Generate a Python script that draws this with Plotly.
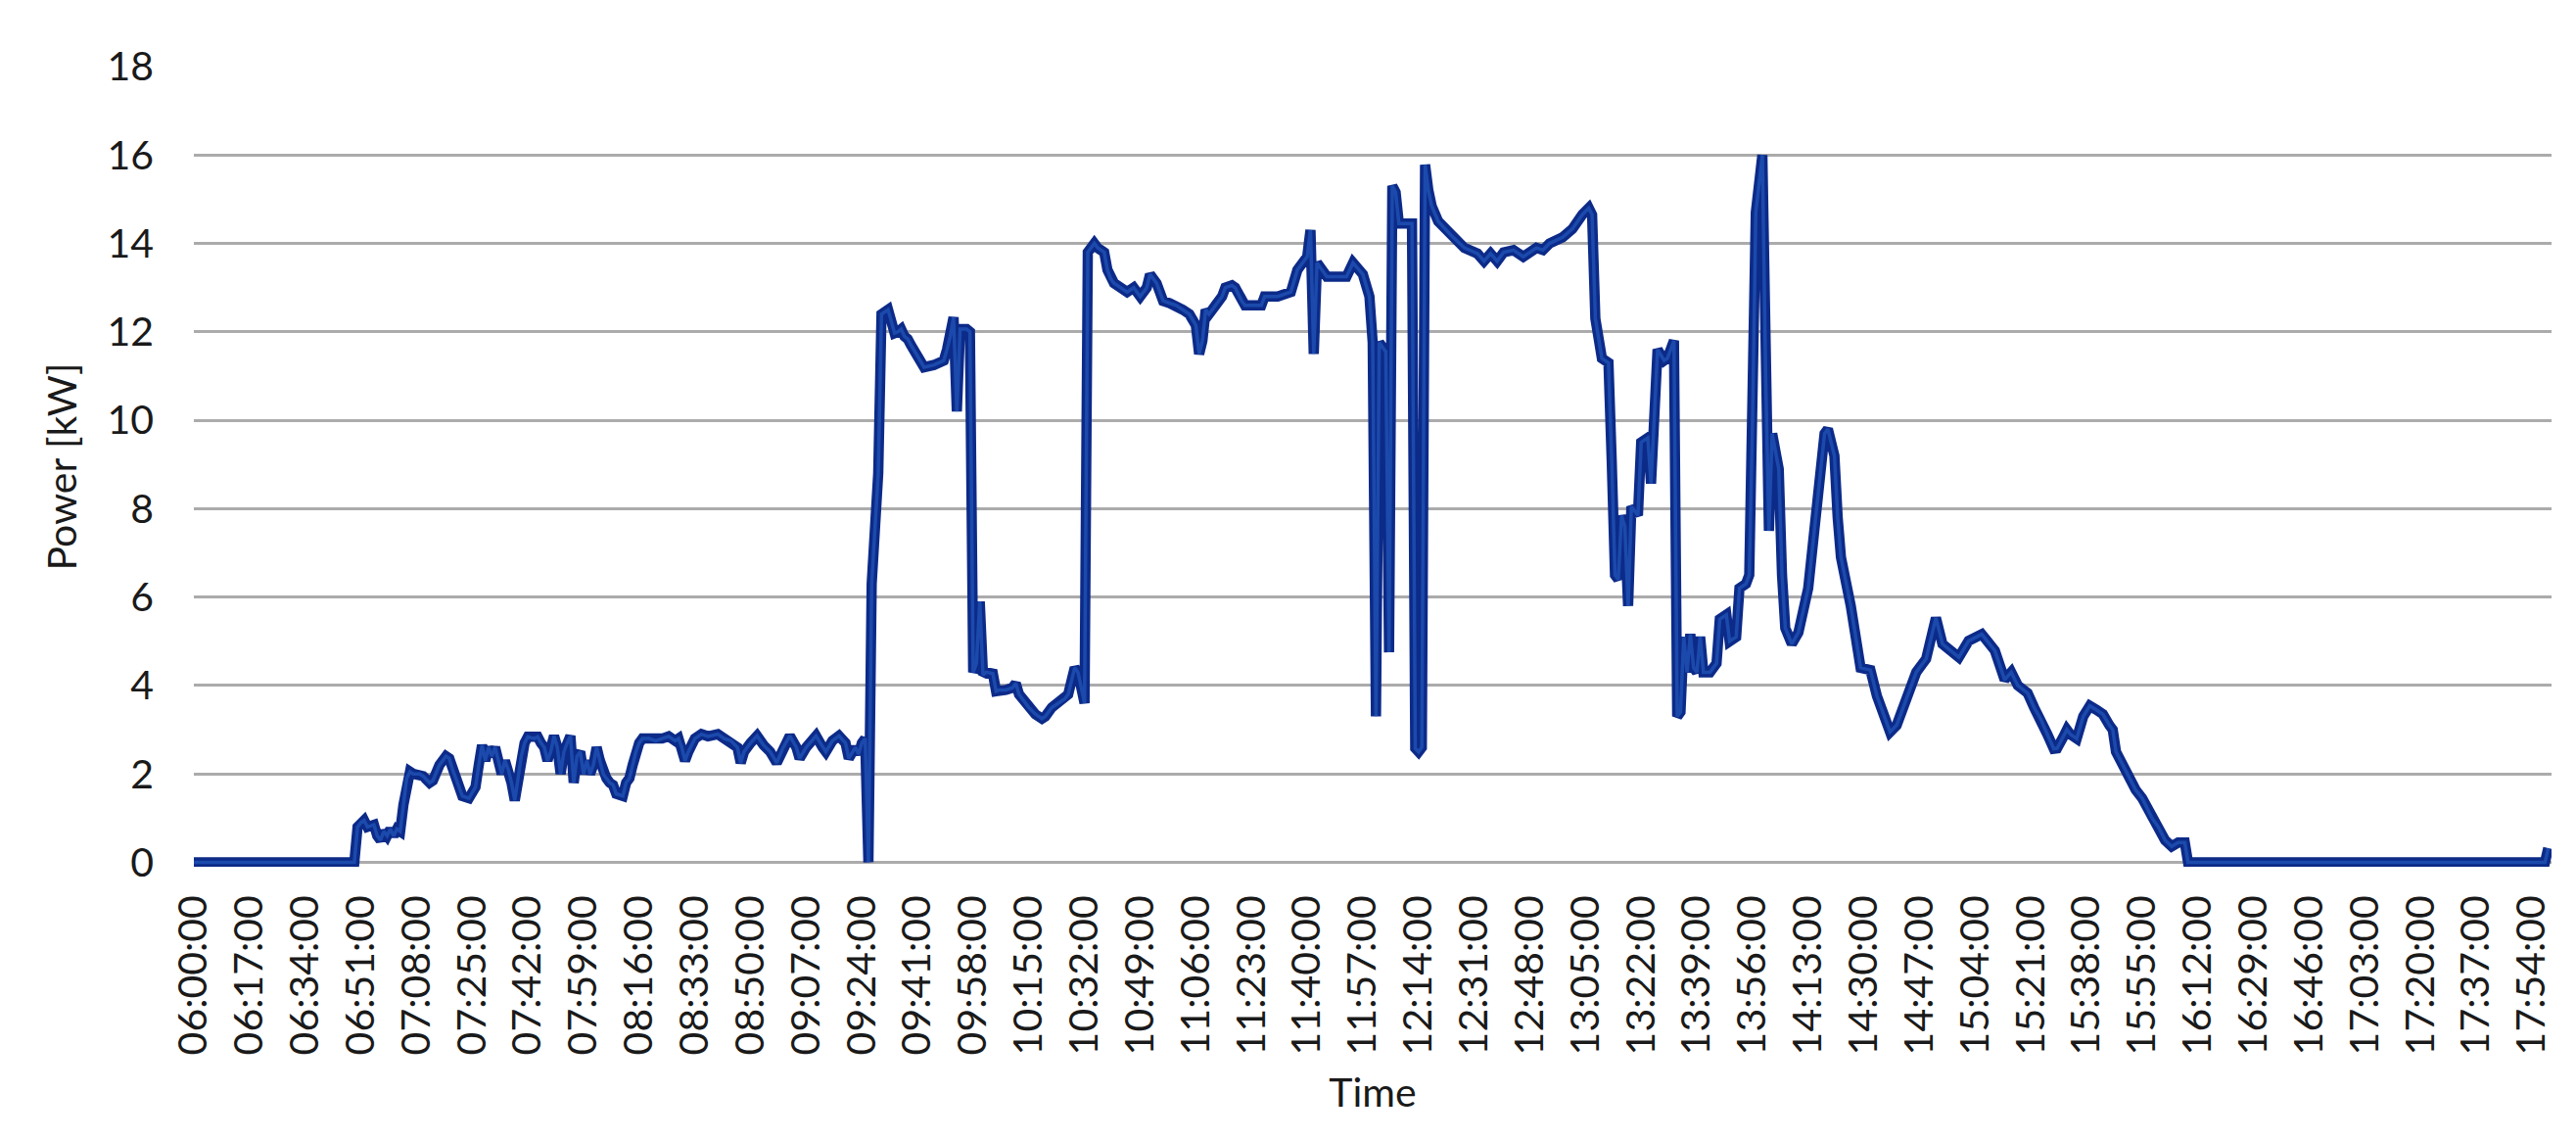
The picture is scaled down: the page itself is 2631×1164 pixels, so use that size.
import plotly.graph_objects as go
from datetime import datetime

DAY = "2024-01-01"

TIMES = [
    "06:00", "06:49", "06:50", "06:51", "06:52", "06:53", "06:55", "06:56", "06:57", "06:58",
    "06:59", "07:00", "07:01", "07:02", "07:03", "07:04", "07:05", "07:06", "07:07", "07:09",
    "07:10", "07:12", "07:13", "07:15", "07:17", "07:18", "07:19", "07:21", "07:22", "07:24",
    "07:26", "07:27", "07:28", "07:29", "07:30", "07:31", "07:32", "07:33", "07:34", "07:35",
    "07:36", "07:37", "07:38", "07:39", "07:40", "07:41", "07:42", "07:44", "07:45", "07:46",
    "07:47", "07:48", "07:49", "07:50", "07:51", "07:52", "07:53", "07:54", "07:55", "07:56",
    "07:57", "07:58", "07:59", "08:00", "08:01", "08:02", "08:03", "08:04", "08:05", "08:06",
    "08:07", "08:08", "08:09", "08:11", "08:12", "08:13", "08:14", "08:15", "08:16", "08:17",
    "08:19", "08:21", "08:23", "08:25", "08:27", "08:28", "08:29", "08:30", "08:31", "08:33",
    "08:35", "08:37", "08:40", "08:42", "08:44", "08:46", "08:47", "08:48", "08:50", "08:52",
    "08:54", "08:56", "08:58", "09:00", "09:02", "09:04", "09:05", "09:07", "09:10", "09:12",
    "09:13", "09:15", "09:17", "09:19", "09:20", "09:22", "09:23", "09:24", "09:25", "09:26",
    "09:27", "09:29", "09:30", "09:32", "09:33", "09:34", "09:35", "09:36", "09:37", "09:38",
    "09:39", "09:41", "09:42", "09:43", "09:46", "09:49", "09:50", "09:51", "09:52", "09:53",
    "09:54", "09:56", "09:57", "09:58", "09:59", "10:00", "10:01", "10:02", "10:04", "10:05",
    "10:06", "10:08", "10:10", "10:11", "10:12", "10:13", "10:15", "10:17", "10:19", "10:20",
    "10:22", "10:24", "10:26", "10:27", "10:28", "10:29", "10:30", "10:32", "10:33", "10:35",
    "10:36", "10:38", "10:39", "10:40", "10:41", "10:43", "10:45", "10:47", "10:49", "10:51",
    "10:52", "10:54", "10:56", "10:58", "11:00", "11:02", "11:04", "11:06", "11:07", "11:08",
    "11:09", "11:10", "11:12", "11:14", "11:15", "11:17", "11:18", "11:20", "11:21", "11:23",
    "11:26", "11:27", "11:29", "11:31", "11:35", "11:37", "11:40", "11:41", "11:42", "11:43",
    "11:46", "11:52", "11:54", "11:57", "11:59", "12:00", "12:01", "12:02", "12:04", "12:05",
    "12:06", "12:07", "12:08", "12:12", "12:13", "12:14", "12:15", "12:16", "12:17", "12:18",
    "12:20", "12:24", "12:28", "12:32", "12:34", "12:36", "12:38", "12:40", "12:43", "12:46",
    "12:48", "12:50", "12:52", "12:54", "12:58", "13:01", "13:04", "13:06", "13:07", "13:08",
    "13:10", "13:12", "13:13", "13:14", "13:15", "13:16", "13:17", "13:18", "13:19", "13:21",
    "13:22", "13:24", "13:25", "13:27", "13:29", "13:30", "13:32", "13:33", "13:34", "13:35",
    "13:36", "13:37", "13:38", "13:39", "13:40", "13:41", "13:43", "13:45", "13:46", "13:48",
    "13:49", "13:51", "13:52", "13:54", "13:55", "13:56", "13:57", "13:59", "14:00", "14:01",
    "14:02", "14:03", "14:04", "14:05", "14:06", "14:08", "14:10", "14:13", "14:14", "14:15",
    "14:16", "14:17", "14:18", "14:19", "14:21", "14:22", "14:23", "14:26", "14:29", "14:32",
    "14:34", "14:38", "14:40", "14:46", "14:49", "14:52", "14:54", "14:59", "15:02", "15:06",
    "15:10", "15:13", "15:15", "15:17", "15:20", "15:22", "15:24", "15:26", "15:28", "15:29",
    "15:31", "15:32", "15:33", "15:35", "15:37", "15:39", "15:41", "15:43", "15:45", "15:46",
    "15:47", "15:49", "15:51", "15:53", "15:55", "15:56", "15:58", "16:00", "16:02", "16:04",
    "16:06", "16:08", "16:09", "17:58", "17:59",
]

POWER_KW = [
    0.0, 0.0, 0.8, 0.9, 0.95, 0.8, 0.85, 0.6, 0.5, 0.7,
    0.6, 0.75, 0.6, 0.75, 0.7, 1.3, 1.9, 2.05, 2.0, 2.0,
    1.95, 1.8, 1.85, 2.2, 2.4, 2.35, 2.1, 1.7, 1.5, 1.45,
    1.7, 2.2, 2.65, 2.3, 2.6, 2.4, 2.6, 2.3, 2.0, 2.3,
    2.1, 1.8, 1.4, 1.9, 2.4, 2.7, 2.84, 2.8, 2.84, 2.7,
    2.6, 2.3, 2.5, 2.86, 2.6, 2.0, 2.5, 2.7, 2.86, 1.8,
    2.4, 2.5, 2.0, 2.3, 2.0, 2.2, 2.6, 2.3, 2.0, 1.9,
    1.8, 1.75, 1.55, 1.5, 1.8, 1.9, 2.2, 2.5, 2.7, 2.8,
    2.8, 2.75, 2.8, 2.85, 2.75, 2.8, 2.6, 2.3, 2.5, 2.8,
    2.9, 2.85, 2.9, 2.8, 2.75, 2.6, 2.25, 2.5, 2.7, 2.86,
    2.65, 2.5, 2.25, 2.6, 2.86, 2.6, 2.35, 2.6, 2.86, 2.6,
    2.5, 2.75, 2.86, 2.7, 2.35, 2.6, 2.45, 2.7, 2.8, 0.0,
    6.3, 8.8, 12.4, 12.5, 12.2, 11.97, 12.0, 12.06, 11.9, 11.84,
    11.7, 11.45, 11.3, 11.2, 11.25, 11.35, 11.6, 11.9, 12.33, 10.2,
    12.06, 12.06, 12.0, 4.3, 4.5, 5.9, 4.24, 4.3, 4.27, 3.87,
    3.9, 3.9, 3.95, 4.05, 3.8, 3.7, 3.5, 3.35, 3.25, 3.3,
    3.5, 3.6, 3.7, 3.8, 4.1, 4.4, 4.3, 3.6, 13.8, 14.0,
    13.9, 13.8, 13.4, 13.2, 13.1, 13.0, 12.9, 13.0, 12.8, 13.0,
    13.3, 13.1, 12.7, 12.65, 12.6, 12.5, 12.4, 12.15, 11.5, 11.8,
    12.5, 12.4, 12.6, 12.8, 13.0, 13.05, 13.0, 12.7, 12.6, 12.6,
    12.6, 12.8, 12.8, 12.8, 12.9, 13.4, 13.7, 14.3, 11.5, 13.56,
    13.25, 13.25, 13.56, 13.3, 12.8, 11.76, 3.3, 11.76, 11.55, 4.75,
    15.3, 15.16, 14.45, 14.45, 2.58, 2.5, 2.6, 15.78, 15.2, 14.85,
    14.5, 14.18, 13.9, 13.77, 13.6, 13.77, 13.6, 13.8, 13.85, 13.7,
    13.8, 13.9, 13.85, 14.0, 14.14, 14.33, 14.65, 14.8, 14.65, 12.3,
    11.4, 11.3, 9.08, 6.5, 6.4, 7.84, 7.6, 5.8, 8.05, 7.85,
    9.5, 9.6, 8.57, 11.6, 11.35, 11.4, 11.8, 3.3, 3.4, 5.1,
    4.3, 5.16, 4.4, 4.3, 5.1, 4.3, 4.3, 4.5, 5.5, 5.6,
    5.0, 5.1, 6.2, 6.3, 6.5, 10.0, 14.7, 16.0, 11.0, 7.5,
    9.7, 9.3, 8.9, 6.5, 5.3, 4.94, 5.2, 6.2, 6.9, 7.6,
    8.2, 9.0, 9.7, 9.8, 9.2, 7.8, 6.9, 5.8, 4.4, 4.35,
    3.76, 2.95, 3.1, 4.3, 4.6, 5.53, 4.94, 4.64, 5.01, 5.16,
    4.79, 4.13, 4.3, 4.0, 3.83, 3.5, 3.24, 2.9, 2.57, 2.58,
    2.85, 3.0, 2.9, 2.8, 3.3, 3.54, 3.45, 3.35, 3.1, 3.0,
    2.5, 2.2, 1.9, 1.64, 1.45, 1.3, 1.0, 0.79, 0.5, 0.36,
    0.45, 0.45, 0.0, 0.0, 0.32,
]

TICK_LABELS = [
    "06:00:00", "06:17:00", "06:34:00", "06:51:00", "07:08:00", "07:25:00", "07:42:00",
    "07:59:00", "08:16:00", "08:33:00", "08:50:00", "09:07:00", "09:24:00", "09:41:00",
    "09:58:00", "10:15:00", "10:32:00", "10:49:00", "11:06:00", "11:23:00", "11:40:00",
    "11:57:00", "12:14:00", "12:31:00", "12:48:00", "13:05:00", "13:22:00", "13:39:00",
    "13:56:00", "14:13:00", "14:30:00", "14:47:00", "15:04:00", "15:21:00", "15:38:00",
    "15:55:00", "16:12:00", "16:29:00", "16:46:00", "17:03:00", "17:20:00", "17:37:00",
    "17:54:00",
]

Y_TICKS = [0, 2, 4, 6, 8, 10, 12, 14, 16, 18]

assert len(TIMES) == len(POWER_KW)
assert TIMES == sorted(TIMES) and len(set(TIMES)) == len(TIMES)

x_vals = [datetime.strptime(f"{DAY} {t}", "%Y-%m-%d %H:%M") for t in TIMES]
tick_vals = [datetime.strptime(f"{DAY} {t}", "%Y-%m-%d %H:%M:%S") for t in TICK_LABELS]

FONT = "Lato, 'Open Sans', sans-serif"
TEXT_COLOR = "#1a1a1a"
GRID = "#ababab"

fig = go.Figure()
fig.add_trace(go.Scatter(
    x=x_vals, y=POWER_KW, mode="lines",
    line=dict(color="#0c2a88", width=10.5, shape="linear"),
    hoverinfo="skip", showlegend=False,
))
fig.add_trace(go.Scatter(
    x=x_vals, y=POWER_KW, mode="lines",
    line=dict(color="#2b6bd0", width=3.5),
    opacity=0.5,
    hoverinfo="skip", showlegend=False,
))

fig.update_layout(
    width=2631, height=1164,
    margin=dict(l=190, r=33, t=60, b=287, autoexpand=False),
    paper_bgcolor="white", plot_bgcolor="white",
    font=dict(family=FONT, size=41, color=TEXT_COLOR),
    showlegend=False,
)

fig.update_xaxes(
    type="date",
    range=[datetime.strptime(f"{DAY} 06:00", "%Y-%m-%d %H:%M"),
           datetime.strptime(f"{DAY} 18:00", "%Y-%m-%d %H:%M")],
    tickmode="array", tickvals=tick_vals, ticktext=TICK_LABELS,
    tickangle=-90,
    tickfont=dict(family=FONT, size=41, color=TEXT_COLOR),
    ticklabelstandoff=20,
    showgrid=False, zeroline=False, showline=False, ticks="",
    title=dict(text="Time", font=dict(family=FONT, size=41, color=TEXT_COLOR), standoff=24),
    automargin=False,
)

fig.update_yaxes(
    range=[-0.1, 18],
    tickmode="array", tickvals=Y_TICKS, ticktext=[str(v) for v in Y_TICKS],
    tickfont=dict(family=FONT, size=41, color=TEXT_COLOR),
    ticklabelstandoff=40,
    showgrid=True, gridcolor=GRID, gridwidth=2.5,
    zeroline=False, showline=False, ticks="",
    title=dict(text="Power [kW]", font=dict(family=FONT, size=41, color=TEXT_COLOR), standoff=18),
    automargin=False,
)

fig.write_html("out.html")
